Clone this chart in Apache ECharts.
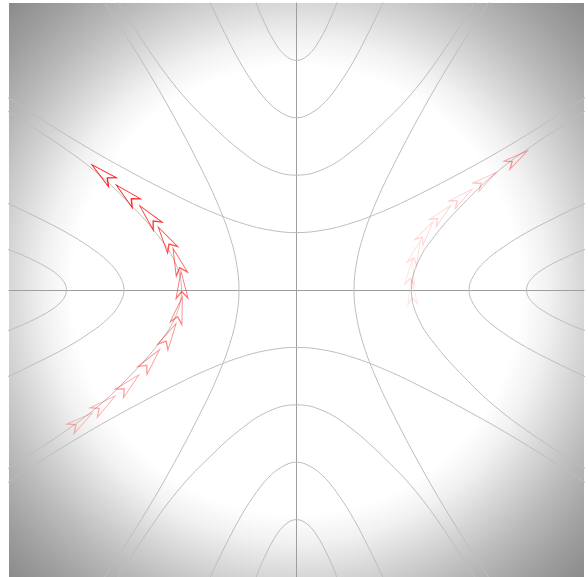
<!DOCTYPE html>
<html>
<head>
<meta charset="utf-8">
<script src="https://cdn.jsdelivr.net/npm/echarts@6/dist/echarts.min.js"></script>
<style>
  html, body { margin: 0; padding: 0; background: #ffffff; }
  #chart { width: 588px; height: 577px; }
</style>
</head>
<body>
<div id="chart"></div>
<script>
// Half-branches of the four hyperbola-like curves, from the vertex outward.
// Each point is [offset across the opening axis, distance along the opening axis].
const branch1 = [[0, 1], [0.5, 1.05], [1, 1.18], [1.5, 1.37], [2, 1.6], [3, 2.12], [4, 2.7], [5, 3.34], [6, 4.0]];
const branch2 = [[0, 2], [0.5, 2.12], [1, 2.45], [1.5, 2.9], [2, 3.42], [2.5, 4.08], [3.1, 5.0], [3.5, 5.6]];
const branch3 = [[0, 3], [0.25, 3.08], [0.5, 3.28], [0.75, 3.6], [1, 4.0], [1.25, 4.48], [1.5, 5.0], [1.7, 5.45]];
const branch4 = [[0, 4], [0.2, 4.09], [0.4, 4.35], [0.6, 4.75], [0.69, 4.97], [0.8, 5.3]];

// Arrow markers along the left and right traces (marker centres), oldest first.
const leftTrace = [
  [-3.74, -2.28], [-3.34, -1.99], [-2.91, -1.64], [-2.53, -1.22], [-2.21, -0.79],
  [-2.04, -0.35], [-2.00, 0.09], [-2.07, 0.50], [-2.28, 0.90], [-2.57, 1.29],
  [-2.96, 1.67], [-3.38, 2.03]
];
const leftAlpha = [0.3, 0.35, 0.4, 0.45, 0.5, 0.55, 0.62, 0.7, 0.8, 0.88, 0.95, 1.0];

const rightTrace = [
  [2.01, -0.03], [1.99, 0.31], [2.08, 0.66], [2.25, 1.01], [2.53, 1.32],
  [2.88, 1.62], [3.30, 1.92], [3.84, 2.30]
];
const rightAlpha = [0.12, 0.14, 0.16, 0.18, 0.2, 0.23, 0.28, 0.45];

const curveColor = '#bdbdbd';
const axisColor = '#9e9e9e';
const arrowColor = '#ff1a1a';
// Concave arrowhead, tip up; fitted to its bounding box so it sits centred on the point.
const arrowPath = 'path://M0,0L6,28L0,21L-6,28Z';

// Builds a full branch (both halves) from a half-branch.
function fullBranch(half, orient, sign) {
  const pts = [];
  for (let i = half.length - 1; i > 0; i--) pts.push([-half[i][0], half[i][1]]);
  for (let i = 0; i < half.length; i++) pts.push([half[i][0], half[i][1]]);
  return pts.map(([t, s]) => orient === 'v' ? [t, sign * s] : [sign * s, t]);
}

const curveSeries = [];
[branch1, branch2, branch3, branch4].forEach(half => {
  [['v', 1], ['v', -1], ['h', 1], ['h', -1]].forEach(([o, sg]) => {
    curveSeries.push({
      type: 'line',
      data: fullBranch(half, o, sg),
      smooth: 0.4,
      showSymbol: false,
      silent: true,
      lineStyle: { color: curveColor, width: 1 },
      z: 2
    });
  });
});

// Marker heading follows the direction of travel along the trace.
function arrowItems(trace, alpha) {
  return trace.map((p, i) => {
    const a = trace[Math.max(i - 1, 0)];
    const b = trace[Math.min(i + 1, trace.length - 1)];
    const ang = Math.atan2(b[1] - a[1], b[0] - a[0]) * 180 / Math.PI;
    return { value: p, symbolRotate: ang - 90, itemStyle: { opacity: alpha[i] } };
  });
}

const arrowStyle = {
  color: 'rgba(255,255,255,0.05)',
  borderColor: arrowColor,
  borderWidth: 1.2
};

const chart = echarts.init(document.getElementById('chart'), null, { renderer: 'canvas' });
chart.setOption({
  animation: false,
  backgroundColor: '#ffffff',
  grid: {
    left: 9, right: 4, top: 3, bottom: 0,
    show: true,
    borderWidth: 0,
    backgroundColor: {
      type: 'radial', x: 0.5, y: 0.5, r: 0.71,
      colorStops: [
        { offset: 0, color: '#ffffff' },
        { offset: 0.55, color: '#ffffff' },
        { offset: 0.62, color: '#f1f1f1' },
        { offset: 0.707, color: '#d6d6d6' },
        { offset: 0.8, color: '#bababa' },
        { offset: 0.9, color: '#a0a0a0' },
        { offset: 1, color: '#8a8a8a' }
      ]
    }
  },
  xAxis: {
    type: 'value', min: -5, max: 5,
    axisLine: { onZero: true, lineStyle: { color: axisColor, width: 1 } },
    axisTick: { show: false }, axisLabel: { show: false }, splitLine: { show: false }
  },
  yAxis: {
    type: 'value', min: -5, max: 5,
    axisLine: { onZero: true, lineStyle: { color: axisColor, width: 1 } },
    axisTick: { show: false }, axisLabel: { show: false }, splitLine: { show: false }
  },
  series: curveSeries.concat([
    {
      type: 'scatter', symbol: arrowPath, symbolSize: [12, 27],
      data: arrowItems(leftTrace, leftAlpha), itemStyle: arrowStyle, silent: true, z: 5
    },
    {
      type: 'scatter', symbol: arrowPath, symbolSize: [10, 25],
      data: arrowItems(rightTrace, rightAlpha), itemStyle: arrowStyle, silent: true, z: 5
    }
  ])
});
</script>
</body>
</html>
